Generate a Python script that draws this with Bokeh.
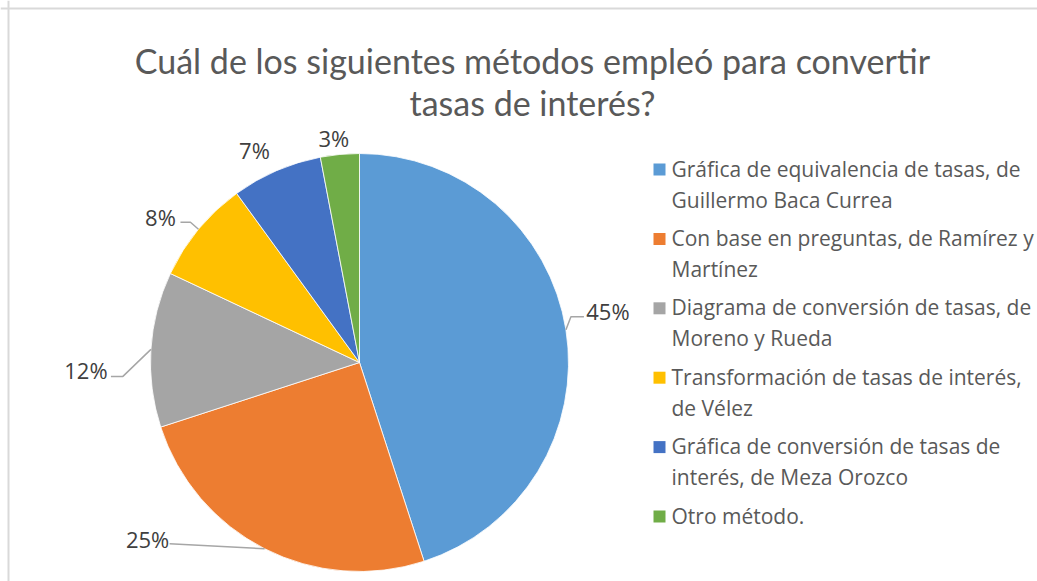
import math
from bokeh.plotting import figure
from bokeh.models import Range1d, ColumnDataSource, Span
from bokeh.core.properties import value
from bokeh.embed import file_html
from bokeh.resources import INLINE

# ---------------- data ----------------
title_lines = ["Cuál de los siguientes métodos empleó para convertir",
               "tasas de interés?"]
categories = [
    "Gráfica de equivalencia de tasas, de\nGuillermo Baca Currea",
    "Con base en preguntas, de Ramírez y\nMartínez",
    "Diagrama de conversión de tasas, de\nMoreno y Rueda",
    "Transformación de tasas de interés,\nde Vélez",
    "Gráfica de conversión de tasas de\ninterés, de Meza Orozco",
    "Otro método.",
]
percentages = [45, 25, 12, 8, 7, 3]

# ---------------- style / layout ----------------
colors = ["#5B9BD5", "#ED7D31", "#A5A5A5", "#FFC000", "#4472C4", "#70AD47"]
W, H = 1037, 581
OFF = 0


def X(px):
    return px - OFF


def Y(py):
    return H + OFF - py


cx_px, cy_px, R = 359, 362, 209
# label offsets (pixels) from the slice mid-edge point, and leader bend points
label_offsets = [(42, -19), (-117, -10), (-65, 21), (-38, -12), (-22, -21), (-6, -16)]
leader_bends = [[(5, -13), (18, -13)], [(-95, -5)], [(-28, 27), (-40, 27)],
                [(-8, -7), (-18, -7)], None, None]

p = figure(width=W, height=H, output_backend="svg", toolbar_location=None,
           x_range=Range1d(0, W), y_range=Range1d(0, H), min_border=0,
           background_fill_color="white", border_fill_color="white",
           outline_line_color=None)
p.xaxis.visible = False
p.yaxis.visible = False
p.grid.visible = False

# frame lines (top and left) like the reference crop
p.add_layout(Span(location=Y(8), dimension="width", line_color="#d9d9d9", line_width=2))
p.add_layout(Span(location=X(8), dimension="height", line_color="#d9d9d9", line_width=2))

# ---------------- pie ----------------
total = float(sum(percentages))
starts, ends, mids = [], [], []
cum = 0.0
for v in percentages:
    a0 = math.pi / 2 - 2 * math.pi * cum / total
    cum += v
    a1 = math.pi / 2 - 2 * math.pi * cum / total
    starts.append(a0)
    ends.append(a1)
    mids.append((a0 + a1) / 2)

src = ColumnDataSource(dict(x=[X(cx_px)] * len(percentages), y=[Y(cy_px)] * len(percentages),
                            start=starts, end=ends, color=colors))
p.wedge(x="x", y="y", radius=R, start_angle="start", end_angle="end",
        direction="clock", fill_color="color", line_color="white", line_width=0.8,
        source=src)

# ---------------- data labels + leader lines ----------------
lx, ly, ltxt = [], [], []
lead_xs, lead_ys = [], []
for i, v in enumerate(percentages):
    ex = cx_px + R * math.cos(mids[i])
    ey = cy_px - R * math.sin(mids[i])
    dx, dy = label_offsets[i]
    lx.append(X(ex + dx))
    ly.append(Y(ey + dy))
    ltxt.append(f"{v}%")
    if leader_bends[i]:
        xs = [X(ex)] + [X(ex + bx) for bx, by in leader_bends[i]]
        ys = [Y(ey)] + [Y(ey + by) for bx, by in leader_bends[i]]
        lead_xs.append(xs)
        lead_ys.append(ys)

p.multi_line(xs=lead_xs, ys=lead_ys, line_color="#a6a6a6", line_width=1.5)
p.text(x=lx, y=ly, text=ltxt, text_font=value("Open Sans"), text_font_size="22px",
       text_color="#404040", text_align="center", text_baseline="middle")

# ---------------- title ----------------
p.text(x=[X(532)] * 2, y=[Y(60), Y(102)], text=title_lines, text_font=value("Lato"),
       text_font_size="34px", text_color="#595959", text_align="center",
       text_baseline="middle")

# ---------------- legend ----------------
leg_y0, leg_step, line_gap = 168, 69.4, 31
sq_x, sq_size, txt_x = 659, 12, 671
sqx, sqy = [], []
tx, ty, tt = [], [], []
for i, lab in enumerate(categories):
    yy = leg_y0 + leg_step * i
    sqx.append(X(sq_x))
    sqy.append(Y(yy + 1))
    for j, line in enumerate(lab.split("\n")):
        tx.append(X(txt_x))
        ty.append(Y(yy + j * line_gap))
        tt.append(line)
p.rect(x=sqx, y=sqy, width=sq_size, height=sq_size, fill_color=colors, line_color=None)
p.text(x=tx, y=ty, text=tt, text_font=value("Open Sans"), text_font_size="21px",
       text_color="#595959", text_align="left", text_baseline="middle")

open("out.html", "w").write(file_html(p, INLINE))
